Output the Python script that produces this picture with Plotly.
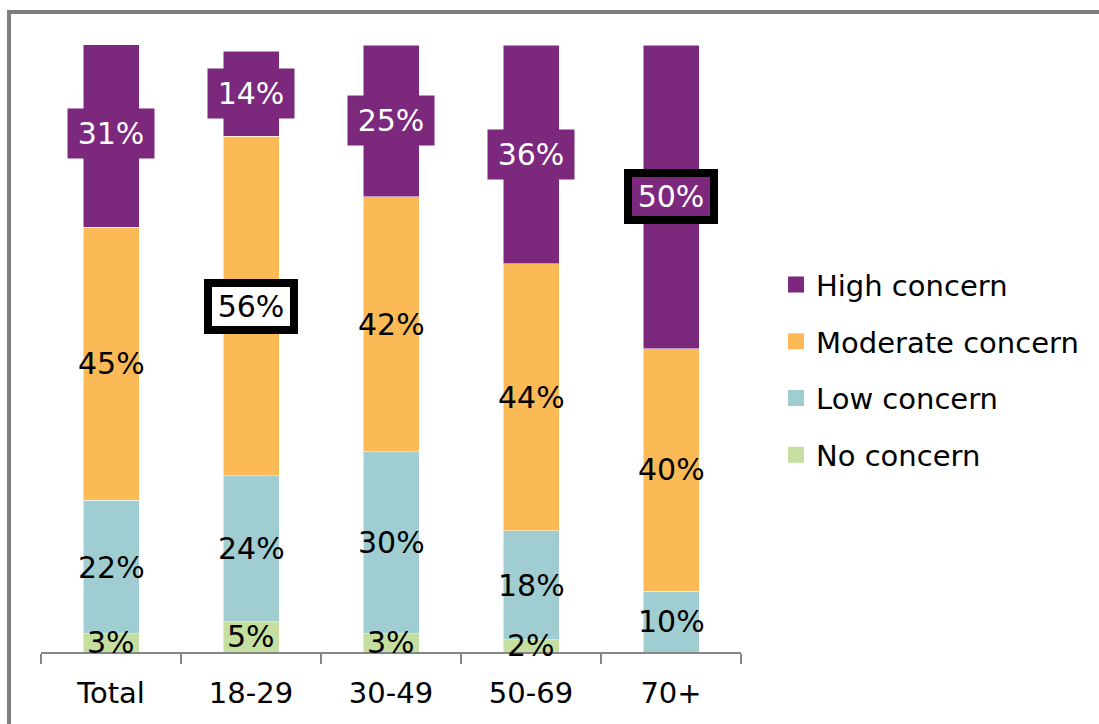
import plotly.graph_objects as go

categories = ["Total", "18-29", "30-49", "50-69", "70+"]
no_concern = [3, 5, 3, 2, 0]
low_concern = [22, 24, 30, 18, 10]
moderate_concern = [45, 56, 42, 44, 40]
high_concern = [31, 14, 25, 36, 50]

series = [
    ("No concern", no_concern, "#c4df9f"),
    ("Low concern", low_concern, "#a0cdd1"),
    ("Moderate concern", moderate_concern, "#fbba56"),
    ("High concern", high_concern, "#7b287d"),
]
highlight = {("Moderate concern", "18-29"), ("High concern", "70+")}

FONT = "DejaVu Sans"
PURPLE = "#7b287d"

fig = go.Figure()
for i, (name, vals, col) in enumerate(series):
    fig.add_trace(go.Bar(
        x=categories, y=vals, name=name, marker_color=col,
        marker_line_width=0.5, marker_line_color="white",
        showlegend=False,
    ))
# legend entries (square markers, larger than default bar swatches)
for i, (name, vals, col) in enumerate(series):
    fig.add_trace(go.Scatter(
        x=[None], y=[None], mode="markers", name=name,
        marker=dict(symbol="square", size=19, color=col),
        legendgroup=name, legendrank=len(series) - i, hoverinfo="skip",
    ))

annotations = []
cum = [0] * len(categories)
for name, vals, col in series:
    for j, c in enumerate(categories):
        v = vals[j]
        center = cum[j] + v / 2
        cum[j] += v
        if v == 0:
            continue
        is_high = name == "High concern"
        ann = dict(x=c, y=center, xref="x", yref="y", text=f"{v}%",
                   showarrow=False,
                   font=dict(family=FONT, size=30,
                             color="white" if is_high else "black"))
        if (name, c) in highlight:
            ann.update(bgcolor=PURPLE if is_high else "white",
                       bordercolor="black", borderwidth=8, borderpad=1,
                       width=76, height=37)
        elif is_high:
            ann.update(bgcolor=PURPLE, borderpad=6, width=74, height=37)
        annotations.append(ann)

fig.update_layout(
    width=1099, height=724,
    margin=dict(l=41, r=358, t=45, b=72),
    paper_bgcolor="white", plot_bgcolor="white",
    barmode="stack", bargap=0.6,
    font=dict(family=FONT, size=29, color="black"),
    showlegend=True,
    legend=dict(x=1.05, y=0.465, xanchor="left", yanchor="middle",
                traceorder="grouped", tracegroupgap=16,
                font=dict(family=FONT, size=29, color="black"),
                bgcolor="rgba(0,0,0,0)"),
    xaxis=dict(showline=True, linecolor="#868686", linewidth=2,
               ticks="outside", tickson="boundaries", ticklen=10,
               tickwidth=2, tickcolor="#868686", ticklabelstandoff=14,
               tickfont=dict(family=FONT, size=29, color="black"),
               showgrid=False, zeroline=False),
    yaxis=dict(range=[0, 100], visible=False, showgrid=False),
    annotations=annotations,
    shapes=[dict(type="rect", xref="paper", yref="paper",
                 x0=(9 - 41) / 700, x1=1.7, y0=-0.3, y1=(652 - 12) / 607,
                 line=dict(color="#7f7f7f", width=4), layer="above")],
)

fig.write_html("out.html")
